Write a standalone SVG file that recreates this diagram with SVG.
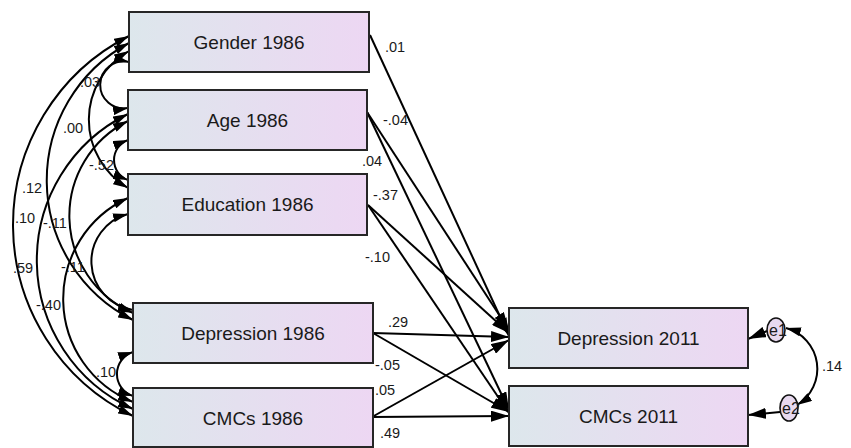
<svg xmlns="http://www.w3.org/2000/svg" width="851" height="448" viewBox="0 0 851 448">
<style>
.box{fill:url(#grad);stroke:#262626;stroke-width:2}
.bt{font-family:"Liberation Sans",Arial,sans-serif;font-size:19px;fill:#1a1a1a;text-anchor:middle}
.lb{font-family:"Liberation Sans",Arial,sans-serif;font-size:14.5px;fill:#1a1a1a}
.ln{fill:none;stroke:#000;stroke-width:2}
.reg{marker-end:url(#ah)}
.cov{marker-start:url(#ah2);marker-end:url(#ah2)}
.err{fill:#e7d9ef;stroke:#111;stroke-width:1.6}
.et{font-family:"Liberation Sans",Arial,sans-serif;font-size:16px;fill:#1a1a1a;text-anchor:middle}
</style>
<defs>
<linearGradient id="grad" x1="0" y1="0" x2="1" y2="0">
<stop offset="0" stop-color="#dde7ec"/>
<stop offset="1" stop-color="#edd7f3"/>
</linearGradient>
<marker id="ah" viewBox="0 0 18 11" refX="18" refY="5.5" markerWidth="18" markerHeight="11" markerUnits="userSpaceOnUse" orient="auto">
<path d="M0,0 L18,5.5 L0,11 z" fill="#000"/>
</marker>
<marker id="ah2" viewBox="0 0 15 9" refX="15" refY="4.5" markerWidth="15" markerHeight="9" markerUnits="userSpaceOnUse" orient="auto-start-reverse">
<path d="M0,0 L15,4.5 L0,9 z" fill="#000"/>
</marker>
</defs>
<rect width="851" height="448" fill="#fff"/>
<g id="connectors">
<path class="ln reg" d="M370,35 L509,336"/>
<path class="ln reg" d="M367,112 L509,330"/>
<path class="ln reg" d="M367,112 L509,410"/>
<path class="ln reg" d="M368,205 L509,333"/>
<path class="ln reg" d="M368,205 L509,413"/>
<path class="ln reg" d="M373,333 L509,337"/>
<path class="ln reg" d="M373,333 L509,412"/>
<path class="ln reg" d="M372,417 L509,340"/>
<path class="ln reg" d="M372,417 L509,416"/>
<path class="ln reg" d="M767,331 L748,339"/>
<path class="ln reg" d="M780,412 L748,415"/>
<path class="ln cov" d="M129,36 A212,212 0 0 0 133,416"/>
<path class="ln cov" d="M129,43 A156,156 0 0 0 133,320"/>
<path class="ln cov" d="M128,114 A163,163 0 0 0 133,409"/>
<path class="ln cov" d="M128,198 A111,111 0 0 0 133,402"/>
<path class="ln cov" d="M128,121 A106,106 0 0 0 133,313"/>
<path class="ln cov" d="M128,214 A49.1,49.1 0 0 0 133,310"/>
<path class="ln cov" d="M129,51 A79,79 0 0 0 128,188"/>
<path class="ln cov" d="M129,62 A23.5,23.5 0 1 0 128,108"/>
<path class="ln cov" d="M128,140 A21.3,21.3 0 0 0 128,180"/>
<path class="ln cov" d="M133,352 A23.1,23.1 0 0 0 133,396"/>
<path class="ln cov" d="M786,328 A42.3,42.3 0 0 1 797,405"/>
</g>
<g id="labels">
<text class="lb" x="385" y="52">.01</text>
<text class="lb" x="383" y="125">-.04</text>
<text class="lb" x="362" y="166">.04</text>
<text class="lb" x="373" y="200">-.37</text>
<text class="lb" x="365" y="262">-.10</text>
<text class="lb" x="388" y="327">.29</text>
<text class="lb" x="375" y="370">-.05</text>
<text class="lb" x="375" y="395">.05</text>
<text class="lb" x="380" y="438">.49</text>
<text class="lb" x="822" y="371">.14</text>
<text class="lb" x="80" y="87">.03</text>
<text class="lb" x="63" y="133">.00</text>
<text class="lb" x="89" y="170">-.52</text>
<text class="lb" x="22" y="193">.12</text>
<text class="lb" x="15" y="223">.10</text>
<text class="lb" x="43" y="228">-.11</text>
<text class="lb" x="13" y="273">.59</text>
<text class="lb" x="61" y="272">-.11</text>
<text class="lb" x="36" y="310">-.40</text>
<text class="lb" x="96" y="377">.10</text>
</g>
<g id="gender1986"><rect class="box" x="129" y="12" width="240" height="60"/><text class="bt" x="249" y="49">Gender 1986</text></g>
<g id="age1986"><rect class="box" x="128" y="90" width="239" height="60"/><text class="bt" x="247.5" y="127">Age 1986</text></g>
<g id="education1986"><rect class="box" x="128" y="174" width="239" height="61"/><text class="bt" x="247.5" y="211">Education 1986</text></g>
<g id="depression1986"><rect class="box" x="133" y="303" width="240" height="60"/><text class="bt" x="253" y="340">Depression 1986</text></g>
<g id="cmcs1986"><rect class="box" x="133" y="388" width="240" height="59"/><text class="bt" x="253" y="425">CMCs 1986</text></g>
<g id="depression2011"><rect class="box" x="509" y="308" width="239" height="60"/><text class="bt" x="628.5" y="345">Depression 2011</text></g>
<g id="cmcs2011"><rect class="box" x="509" y="386" width="239" height="60"/><text class="bt" x="628.5" y="423">CMCs 2011</text></g>
<g id="e1"><ellipse class="err" cx="776" cy="330" rx="9" ry="12"/><text class="et" x="778" y="336">e1</text></g>
<g id="e2"><ellipse class="err" cx="789" cy="408" rx="9" ry="13"/><text class="et" x="791" y="414">e2</text></g>
</svg>
